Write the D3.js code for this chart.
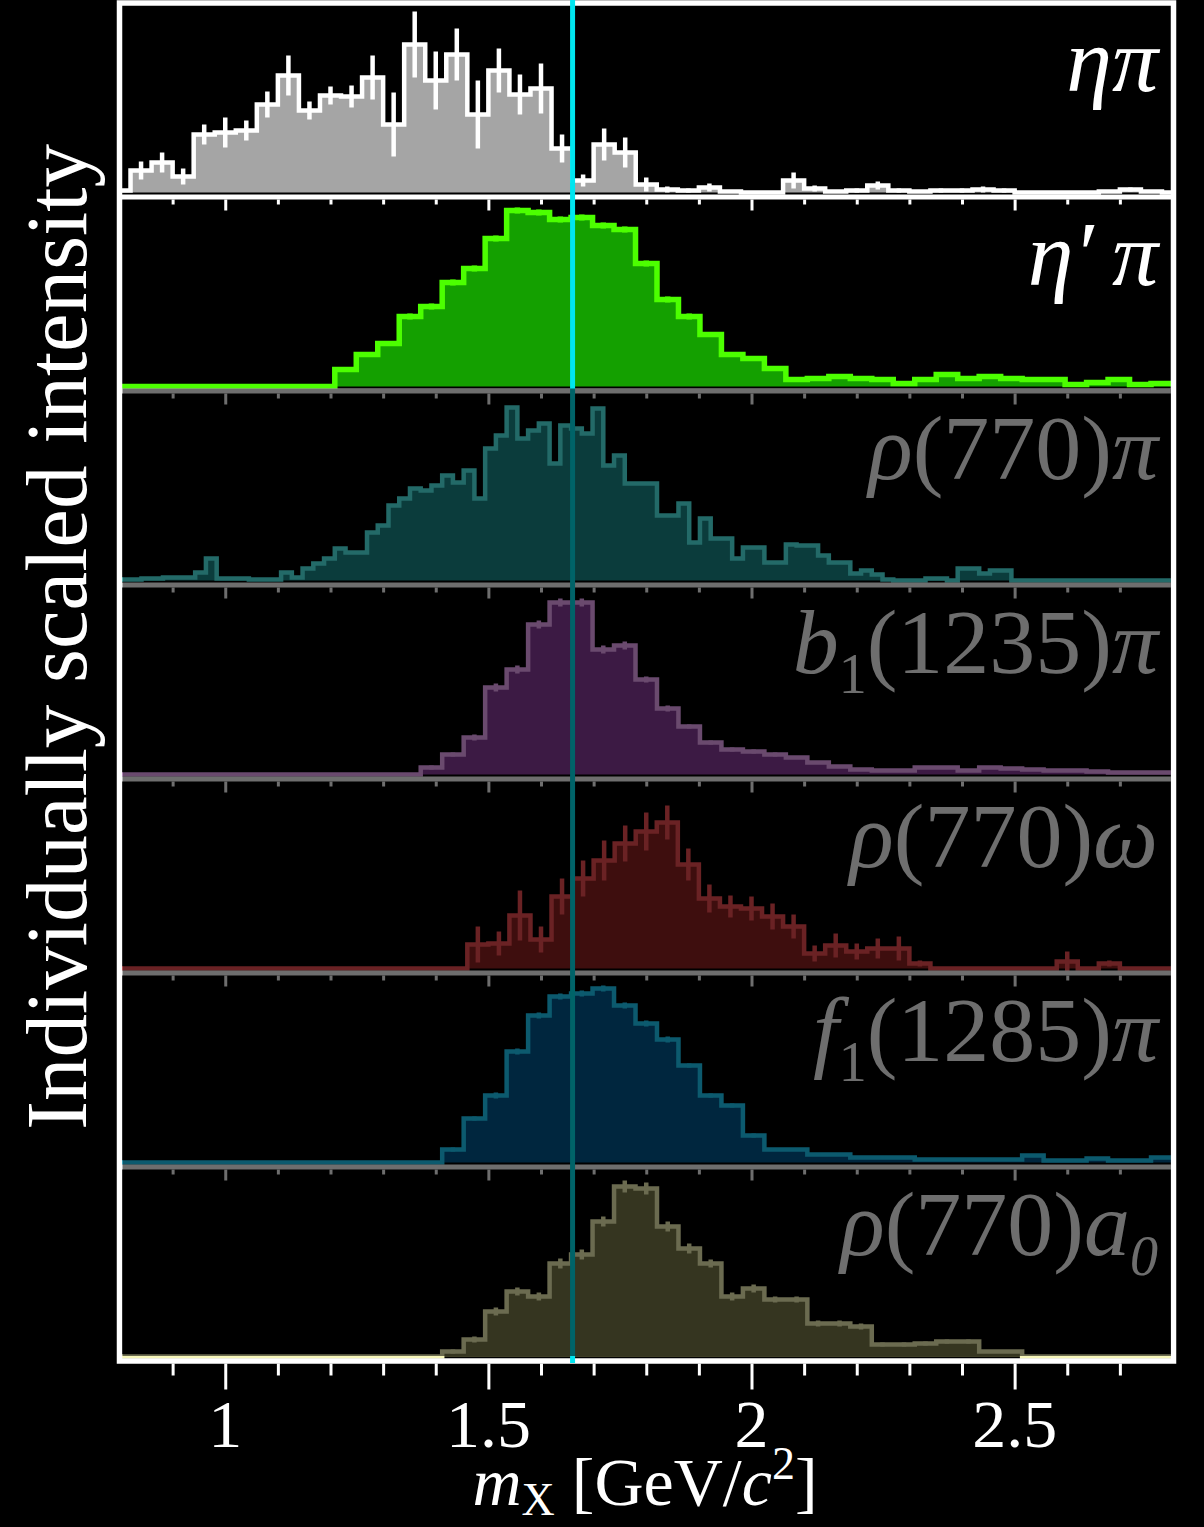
<!doctype html>
<meta charset=utf8>
<title>m_X intensities per decay channel</title>
<style>
  html, body {
    margin: 0;
    background: black;
  }

  svg {
    display: block;
  }

  text {
    font-family: 'Liberation Serif', 'Times New Roman', serif;
  }
</style>
<svg width=1204 height=1527></svg>
<script src=https://d3js.org/d3.v7.min.js></script>
<script>
  // values are bar heights (arbitrary units, each panel scaled on its own)
  // eta pi and rho omega: 51 bins of 0.04 GeV, first edge 0.78
  // eta' pi, b1 pi, f1 pi, rho a0: 49 bins over 0.8 - 2.8
  // rho pi: 98 bins over 0.8 - 2.8

  var etaPi = [
    2, 22, 30, 16, 58, 60, 62, 88, 117, 82,
    97, 96, 115, 68, 148, 112, 138, 78, 122, 98,
    104, 44, 12, 48, 40, 8, 3, 2, 5, 1,
    0, 0, 12, 4, 1, 2, 7, 2, 1, 2,
    2, 3, 2, 0, 0, 0, 0, 1, 3, 1,
    0
  ];
  var etaPiErr = [
    0, 9, 10, 8, 10, 15, 10, 13, 20, 9,
    9, 11, 22, 32, 33, 29, 26, 34, 22, 20,
    25, 14, 6, 16, 15, 7, 3, 2, 4, 1,
    0, 0, 8, 3, 1, 2, 4, 2, 1, 2,
    2, 3, 2, 0, 0, 0, 0, 1, 2, 1,
    0
  ];

  var etaPrimePi = [
    0, 0, 0, 0, 0, 0, 0, 0, 0, 0,
    17, 32, 43, 70, 80, 104, 118, 148, 176, 174,
    167, 169, 161, 157, 123, 87, 70, 52, 32, 28,
    18, 7, 8, 10, 8, 7, 3, 7, 12, 8,
    10, 8, 7, 7, 2, 4, 7, 2, 3
  ];
  var etaPrimePiErr = [
    0, 0, 0, 0, 0, 0, 0, 0, 0, 0,
    2, 2, 2, 3, 3, 3, 3, 3, 3, 3,
    3, 3, 3, 3, 3, 3, 3, 2, 2, 2,
    2, 2, 1, 1, 1, 1, 1, 1, 1, 1,
    1, 1, 1, 1, 1, 1, 1, 1, 1
  ];

  var rhoPi = [
    1, 1, 2, 2, 3, 3, 3, 8, 22, 2,
    2, 2, 1, 1, 1, 8, 3, 12, 17, 22,
    32, 28, 28, 48, 55, 75, 82, 92, 90, 95,
    105, 98, 110, 82, 132, 145, 173, 142, 150, 157,
    117, 155, 152, 147, 172, 115, 125, 97, 97, 97,
    65, 65, 77, 38, 62, 42, 42, 22, 33, 33,
    18, 18, 36, 35, 35, 25, 18, 18, 7, 10,
    6, 1, 0, 0, 0, 2, 2, 0, 12, 12,
    7, 10, 10, 0, 0, 0, 0, 0, 0, 0,
    0, 0, 0, 0, 0, 0, 0, 0
  ];

  var b1Pi = [
    0, 0, 0, 0, 0, 0, 0, 0, 0, 0,
    0, 0, 0, 0, 7, 20, 37, 87, 105, 150,
    172, 172, 125, 129, 95, 66, 48, 32, 25, 23,
    20, 17, 12, 8, 5, 4, 4, 7, 7, 4,
    7, 6, 5, 4, 4, 3, 2, 2, 2
  ];
  var b1PiErr = [
    0, 0, 0, 0, 0, 0, 0, 0, 0, 0,
    0, 0, 0, 0, 2, 2, 3, 4, 4, 4,
    4, 4, 4, 4, 3, 3, 2, 2, 2, 2,
    2, 1, 1, 1, 1, 1, 1, 1, 1, 1,
    1, 1, 1, 1, 1, 1, 1, 1, 1
  ];

  var rhoOmega = [
    0, 0, 0, 0, 0, 0, 0, 0, 0, 0,
    0, 0, 0, 0, 0, 0, 0, 24, 25, 53,
    29, 72, 90, 108, 125, 137, 146, 104, 70, 62,
    60, 52, 42, 15, 23, 17, 20, 20, 5, 0,
    0, 0, 0, 0, 0, 7, 0, 5, 0, 0,
    0
  ];
  var rhoOmegaErr = [
    0, 0, 0, 0, 0, 0, 0, 0, 0, 0,
    0, 0, 0, 0, 0, 0, 0, 18, 12, 25,
    13, 18, 18, 20, 18, 19, 17, 16, 14, 11,
    12, 13, 12, 8, 12, 8, 10, 12, 3, 0,
    0, 0, 0, 0, 0, 10, 0, 3, 0, 0,
    0
  ];

  var f1Pi = [
    0, 0, 0, 0, 0, 0, 0, 0, 0, 0,
    0, 0, 0, 0, 0, 13, 44, 67, 111, 147,
    166, 169, 174, 157, 139, 123, 97, 67, 57, 27,
    13, 13, 8, 8, 5, 5, 5, 3, 3, 3,
    3, 3, 7, 2, 2, 4, 2, 2, 5
  ];
  var f1PiErr = [
    0, 0, 0, 0, 0, 0, 0, 0, 0, 0,
    0, 0, 0, 0, 0, 2, 2, 3, 3, 3,
    3, 3, 3, 3, 3, 3, 2, 2, 2, 2,
    1, 1, 1, 1, 1, 1, 1, 1, 1, 1,
    1, 1, 1, 1, 1, 1, 1, 1, 1
  ];

  var rhoA0 = [
    0, 0, 0, 0, 0, 0, 0, 0, 0, 0,
    0, 0, 0, 0, 0, 5, 17, 45, 65, 60,
    93, 102, 135, 170, 168, 130, 108, 93, 60, 68,
    57, 57, 33, 33, 30, 12, 12, 13, 15, 15,
    5, 5, 0, 0, 0, 0, 0, 0, 0
  ];
  var rhoA0Err = [
    0, 0, 0, 0, 0, 0, 0, 0, 0, 0,
    0, 0, 0, 0, 0, 2, 3, 4, 4, 4,
    5, 5, 5, 6, 6, 5, 5, 4, 4, 4,
    3, 3, 3, 3, 3, 2, 2, 2, 2, 2,
    1, 1, 0, 0, 0, 0, 0, 0, 0
  ];

  // labels: [text, kind] with kind i = italic, sub = subscript, subi = italic subscript
  var labels = [
    [['ηπ', 'i']],
    [['η′\u2009π', 'i']],
    [['ρ', 'i'], ['(770)', ''], ['π', 'i']],
    [['b', 'i'], ['1', 'sub'], ['(1235)', ''], ['π', 'i']],
    [['ρ', 'i'], ['(770)', ''], ['ω', 'i']],
    [['f', 'i'], ['1', 'sub'], ['(1285)', ''], ['π', 'i']],
    [['ρ', 'i'], ['(770)', ''], ['a', 'i'], ['0', 'subi']]
  ];

  var majorTicks = [1, 1.5, 2, 2.5];
  var minorTicks = [0.9, 1.1, 1.2, 1.3, 1.4, 1.6, 1.7, 1.8, 1.9, 2.1, 2.2, 2.3, 2.4, 2.6, 2.7];
  var markerMass = 1.66;

  var panels = [
    {values: etaPi, errors: etaPiErr, start: 0.78, width: 0.04, fill: '#a5a5a5', stroke: '#ffffff', sw: 4.5},
    {values: etaPrimePi, errors: etaPrimePiErr, start: 0.8, width: 2 / 49, fill: '#14a000', stroke: '#4cff00', sw: 5.5},
    {values: rhoPi, errors: null, start: 0.8, width: 1 / 49, fill: '#1a8c8c', stroke: '#52f5f0', sw: 4.5},
    {values: b1Pi, errors: b1PiErr, start: 0.8, width: 2 / 49, fill: '#8c3c9e', stroke: '#f5acff', sw: 4.5},
    {values: rhoOmega, errors: rhoOmegaErr, start: 0.78, width: 0.04, fill: '#902121', stroke: '#f54f54', sw: 4.5},
    {values: f1Pi, errors: f1PiErr, start: 0.8, width: 2 / 49, fill: '#005890', stroke: '#1cd1ff', sw: 4.5},
    {values: rhoA0, errors: rhoA0Err, start: 0.8, width: 2 / 49, fill: '#7b7b4a', stroke: '#f7f7ba', sw: 4.5}
  ];

  var svg = d3.select('svg');
  var top0 = 3;
  var panelH = 194;
  var frameL = 119.5;
  var frameR = 1173.5;
  var bottomY = top0 + panels.length * panelH;

  var x = d3.scaleLinear().domain([0.8, 2.8]).range([120, 1172.5]);

  svg.append('rect').attr('width', 1204).attr('height', 1527).attr('fill', 'black');

  var defs = svg.append('defs');

  panels.forEach(function(p, i) {
    var sepY = top0 + (i + 1) * panelH;
    var base = sepY - 4.5;
    var y = d3.scaleLinear().domain([0, 180]).range([base, base - 180]);

    defs.append('clipPath').attr('id', 'clip' + i)
      .append('rect')
      .attr('x', 122).attr('y', sepY - panelH + 2)
      .attr('width', 1173 - 122).attr('height', panelH);

    var pts = p.values.map(function(v, k) {
      return [p.start + k * p.width, v];
    });
    pts.push([p.start + p.values.length * p.width, p.values[p.values.length - 1]]);

    var area = d3.area()
      .curve(d3.curveStepAfter)
      .x(function(d) { return x(d[0]); })
      .y0(base)
      .y1(function(d) { return y(d[1]); });

    var line = d3.line()
      .curve(d3.curveStepAfter)
      .x(function(d) { return x(d[0]); })
      .y(function(d) { return y(d[1]); });

    var g = svg.append('g').attr('clip-path', 'url(#clip' + i + ')');

    g.append('path').attr('d', area(pts)).attr('fill', p.fill);
    g.append('path').attr('d', line(pts))
      .attr('fill', 'none')
      .attr('stroke', p.stroke)
      .attr('stroke-width', p.sw);

    if (p.errors) {
      g.selectAll('.err')
        .data(p.values.map(function(v, k) { return {m: p.start + (k + 0.5) * p.width, v: v, e: p.errors[k]}; })
          .filter(function(d) { return d.e > 0; }))
        .enter().append('line')
        .attr('x1', function(d) { return x(d.m); })
        .attr('x2', function(d) { return x(d.m); })
        .attr('y1', function(d) { return y(d.v - d.e); })
        .attr('y2', function(d) { return y(d.v + d.e); })
        .attr('stroke', p.stroke)
        .attr('stroke-width', p.sw);
    }

    // channel label
    var t = svg.append('text')
      .attr('x', 1158)
      .attr('y', sepY - panelH + 88)
      .attr('text-anchor', 'end')
      .attr('font-size', 92)
      .attr('fill', 'white');
    var shifted = false;
    labels[i].forEach(function(part) {
      var s = t.append('tspan').text(part[0]);
      if (part[1] === 'i' || part[1] === 'subi') s.attr('font-style', 'italic');
      if (part[1] === 'sub' || part[1] === 'subi') {
        s.attr('font-size', 56).attr('dy', 20);
        shifted = true;
      } else if (shifted) {
        s.attr('dy', -20);
        shifted = false;
      }
    });

    // separator and the ticks hanging under it (the last one is the frame)
    if (i < panels.length - 1) {
      svg.append('line')
        .attr('x1', frameL).attr('x2', frameR)
        .attr('y1', sepY).attr('y2', sepY)
        .attr('stroke', 'white').attr('stroke-width', 5);

      var ax = svg.append('g').attr('transform', 'translate(0,' + (sepY + 2.5) + ')');
      ax.append('g').call(d3.axisBottom(x).tickValues(majorTicks).tickSize(11).tickFormat(''));
      ax.append('g').call(d3.axisBottom(x).tickValues(minorTicks).tickSize(5).tickFormat(''));
      ax.selectAll('.domain').remove();
      ax.selectAll('line').attr('stroke', 'white').attr('stroke-width', 3);
    }
  });

  // outer frame
  svg.append('rect')
    .attr('x', frameL).attr('y', top0)
    .attr('width', frameR - frameL).attr('height', bottomY - top0)
    .attr('fill', 'none')
    .attr('stroke', 'white')
    .attr('stroke-width', 5.5);

  // mass marker
  svg.append('line')
    .attr('x1', x(markerMass)).attr('x2', x(markerMass))
    .attr('y1', 0).attr('y2', bottomY + 2)
    .attr('stroke', '#00e6f0')
    .attr('stroke-width', 5);

  // dim the five lower channels
  svg.append('rect')
    .attr('x', 122.5).attr('y', top0 + 2 * panelH - 2.5)
    .attr('width', 1171 - 122.5)
    .attr('height', bottomY - 5 - (top0 + 2 * panelH - 2.5))
    .attr('fill', 'black')
    .attr('opacity', 0.57);

  // bottom axis
  var bx = svg.append('g').attr('transform', 'translate(0,' + (bottomY + 2.5) + ')');
  bx.append('g').call(d3.axisBottom(x).tickValues(majorTicks).tickSize(26).tickFormat(''));
  bx.append('g').call(d3.axisBottom(x).tickValues(minorTicks).tickSize(12).tickFormat(''));
  bx.selectAll('.domain').remove();
  bx.selectAll('line').attr('stroke', 'white').attr('stroke-width', 3);

  svg.selectAll('.ticklabel')
    .data(majorTicks)
    .enter().append('text')
    .attr('x', function(d) { return x(d); })
    .attr('y', 1447)
    .attr('text-anchor', 'middle')
    .attr('font-size', 68)
    .attr('fill', 'white')
    .text(function(d) { return d; });

  // x title
  var xt = svg.append('text')
    .attr('x', 645).attr('y', 1505)
    .attr('text-anchor', 'middle')
    .attr('font-size', 68)
    .attr('fill', 'white');
  xt.append('tspan').attr('font-style', 'italic').text('m');
  xt.append('tspan').attr('font-size', 46).attr('dy', 10).text('X');
  xt.append('tspan').attr('dy', -10).text(' [GeV/');
  xt.append('tspan').attr('font-style', 'italic').text('c');
  xt.append('tspan').attr('font-size', 46).attr('dy', -26).text('2');
  xt.append('tspan').attr('dy', 26).text(']');

  // y title
  svg.append('text')
    .attr('transform', 'translate(86,637) rotate(-90)')
    .attr('text-anchor', 'middle')
    .attr('font-size', 87)
    .attr('fill', 'white')
    .text('Individually scaled intensity');
</script>
